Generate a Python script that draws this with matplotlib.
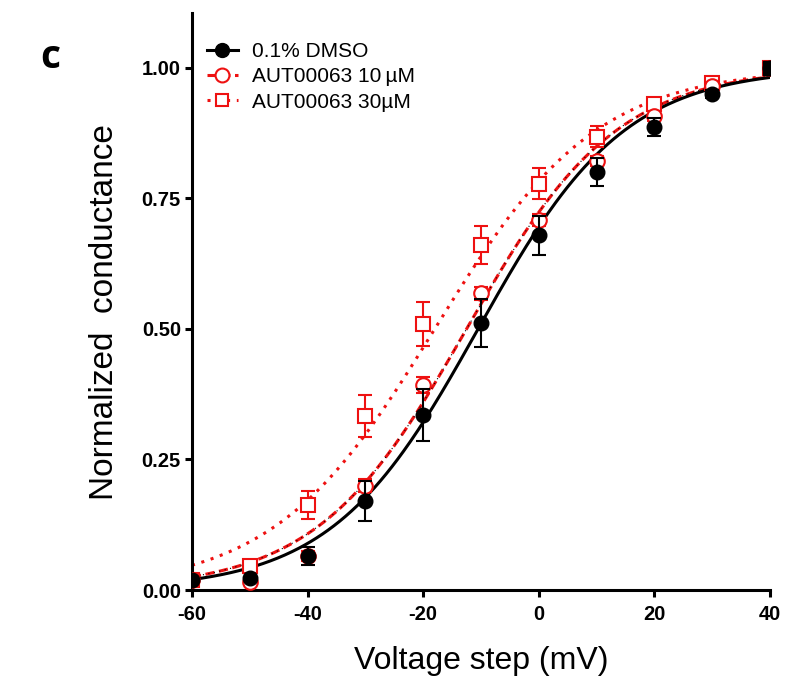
import numpy as np
import matplotlib
matplotlib.use("Agg")
import matplotlib.pyplot as plt

plt.rcParams['font.family'] = ['Liberation Sans', 'DejaVu Sans']
plt.rcParams['axes.unicode_minus'] = False

# voltage steps (mV)
voltage = [-60, -50, -40, -30, -20, -10, 0, 10, 20, 30, 40]

# 0.1% DMSO
dmso_mean = [0.02, 0.023, 0.065, 0.17, 0.335, 0.512, 0.679, 0.80, 0.887, 0.95, 1.0]
dmso_err = [0.0, 0.0, 0.017, 0.038, 0.05, 0.046, 0.038, 0.027, 0.017, 0.008, 0.0]

# AUT00063 10 uM
aut10_mean = [0.02, 0.015, 0.065, 0.20, 0.392, 0.568, 0.709, 0.822, 0.908, 0.965, 1.0]
aut10_err = [0.0, 0.0, 0.01, 0.012, 0.015, 0.012, 0.012, 0.01, 0.01, 0.005, 0.0]

# AUT00063 30 uM
aut30_mean = [0.02, 0.046, 0.163, 0.333, 0.509, 0.661, 0.778, 0.868, 0.93, 0.97, 1.0]
aut30_err = [0.0, 0.0, 0.027, 0.04, 0.042, 0.036, 0.03, 0.02, 0.01, 0.005, 0.0]

# Boltzmann fit parameters (V half, slope k)
fit_dmso = (-10.5, 12.7)
fit_aut10 = (-12.5, 13.0)
fit_aut30 = (-18.0, 14.0)


def boltzmann(v, vhalf, k):
    return 1.0 / (1.0 + np.exp((vhalf - v) / k))


fig = plt.figure(figsize=(7.88, 6.8), dpi=100)
ax = fig.add_axes([192 / 788, 1 - 590 / 680, (770 - 192) / 788, (590 - 13) / 680])

vv = np.linspace(-60, 40, 400)
red = '#ee1111'

ax.plot(vv, boltzmann(vv, *fit_aut30), color=red, lw=2.2, ls=(0, (1, 2.2)), zorder=2)
ax.plot(vv, boltzmann(vv, *fit_aut10), color=red, lw=2.2, ls=(0, (3, 1.5)), zorder=2)
ax.plot(vv, boltzmann(vv, *fit_aut10), color='black', lw=0.8, ls=(0, (1, 4)), zorder=2)
ax.plot(vv, boltzmann(vv, *fit_dmso), color='black', lw=2.2, zorder=3)

ax.errorbar(voltage, aut30_mean, yerr=aut30_err, fmt='s', ms=9.5, mfc='white',
            mec=red, mew=1.5, ecolor=red, elinewidth=1.5, capsize=5, capthick=1.5, zorder=4)
ax.errorbar(voltage, aut10_mean, yerr=aut10_err, fmt='o', ms=10.5, mfc='white',
            mec=red, mew=1.5, ecolor=red, elinewidth=1.5, capsize=5, capthick=1.5, zorder=5)
ax.errorbar(voltage, dmso_mean, yerr=dmso_err, fmt='o', ms=10.5, mfc='black',
            mec='black', ecolor='black', elinewidth=1.5, capsize=5, capthick=1.5, zorder=6)
# last point where all three coincide
ax.plot(voltage[-1:], dmso_mean[-1:], 's', ms=10, color='black', zorder=7)

# legend handles
h1, = ax.plot([], [], 'o-', color='black', ms=10, lw=2.2)
h2, = ax.plot([], [], 'o', color=red, mfc='white', ms=10, mew=1.5, ls=(0, (3, 1.5)), lw=2.2)
h3, = ax.plot([], [], 's', color=red, mfc='white', ms=9, mew=1.5, ls=(0, (1, 2.2)), lw=2.2)
ax.legend([h1, h2, h3], ['0.1% DMSO', 'AUT00063 10\u2009\u00b5M', 'AUT00063 30\u00b5M'],
          loc='upper left', bbox_to_anchor=(0.0, 0.975), frameon=False, fontsize=15,
          handlelength=1.5, handletextpad=0.7, labelspacing=0.3, borderaxespad=0.3)

ax.set_xlim(-60, 40)
ax.set_ylim(0, 1.105)
ax.set_xticks([-60, -40, -20, 0, 20, 40])
ax.set_yticks([0, 0.25, 0.5, 0.75, 1.0])
ax.set_yticklabels(['0.00', '0.25', '0.50', '0.75', '1.00'])

for s in ['top', 'right']:
    ax.spines[s].set_visible(False)
for s in ['left', 'bottom']:
    ax.spines[s].set_linewidth(2.2)
ax.tick_params(width=2.2, length=5, labelsize=14.5, pad=3)
ax.tick_params(axis='x', pad=6)
for lab in ax.get_xticklabels() + ax.get_yticklabels():
    lab.set_fontweight('bold')

ax.set_xlabel('Voltage step (mV)', fontsize=23, labelpad=16)
ax.set_ylabel('Normalized  conductance', fontsize=24)
ax.yaxis.set_label_coords(-0.125, 0.482)

fig.text(40 / 788, 1 - 57 / 680, 'c', fontsize=28, fontweight='bold',
         ha='left', va='center', family=['Open Sans', 'DejaVu Sans'])

fig.savefig('out.png', dpi=100)
